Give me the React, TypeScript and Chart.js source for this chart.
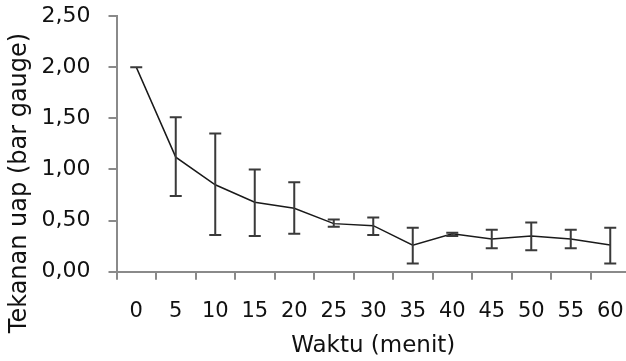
import React, { useEffect, useRef } from "react";
import { Chart, registerables } from "chart.js";

Chart.register(...registerables);

const times = ["0", "5", "10", "15", "20", "25", "30", "35", "40", "45", "50", "55", "60"];
const means = [2.0, 1.12, 0.85, 0.68, 0.62, 0.47, 0.45, 0.26, 0.37, 0.32, 0.35, 0.32, 0.26];
const upper = [2.0, 1.51, 1.35, 1.0, 0.875, 0.51, 0.53, 0.43, 0.38, 0.41, 0.48, 0.41, 0.43];
const lower = [2.0, 0.74, 0.36, 0.35, 0.37, 0.44, 0.36, 0.08, 0.35, 0.23, 0.21, 0.23, 0.08];
const yTitle = "Tekanan uap (bar gauge)";
const xTitle = "Waktu (menit)";

const FONT = "'DejaVu Sans', Verdana, sans-serif";

const errorBarPlugin = {
  id: "errorBars",
  afterDatasetsDraw(chart: any) {
    const ctx = chart.ctx;
    const xs = chart.scales.x;
    const ys = chart.scales.y;
    ctx.save();
    ctx.strokeStyle = "#3a3a3a";
    ctx.lineWidth = 2;
    const cap = 6;
    for (let i = 0; i < means.length; i++) {
      const x = xs.getPixelForValue(i);
      const yu = ys.getPixelForValue(upper[i]);
      const yl = ys.getPixelForValue(lower[i]);
      ctx.beginPath();
      ctx.moveTo(x, yu);
      ctx.lineTo(x, yl);
      ctx.moveTo(x - cap, yu);
      ctx.lineTo(x + cap, yu);
      ctx.moveTo(x - cap, yl);
      ctx.lineTo(x + cap, yl);
      ctx.stroke();
    }
    ctx.restore();
  },
};

const yTitlePlugin = {
  id: "yTitle",
  afterDraw(chart: any) {
    const ctx = chart.ctx;
    ctx.save();
    ctx.translate(26, 183);
    ctx.rotate(-Math.PI / 2);
    ctx.font = `24px ${FONT}`;
    ctx.fillStyle = "#111";
    ctx.textAlign = "center";
    ctx.textBaseline = "alphabetic";
    ctx.fillText(yTitle, 0, 0);
    ctx.restore();
  },
};

export default function App() {
  const ref = useRef<HTMLCanvasElement>(null);
  useEffect(() => {
    if (!ref.current) return;
    const chart = new Chart(ref.current, {
      type: "line",
      data: {
        labels: times,
        datasets: [
          {
            data: means,
            borderColor: "#1a1a1a",
            borderWidth: 1.5,
            pointRadius: 0,
            tension: 0,
            fill: false,
          },
        ],
      },
      options: {
        responsive: false,
        animation: false,
        layout: { padding: { top: 16, right: 10, left: 0, bottom: 0 } },
        plugins: { legend: { display: false }, tooltip: { enabled: false } },
        scales: {
          x: {
            offset: true,
            grid: {
              offset: true,
              drawOnChartArea: false,
              drawTicks: true,
              tickLength: 8,
              color: "#8a8a8a",
              lineWidth: 2,
            },
            border: { color: "#8a8a8a", width: 2 },
            ticks: {
              font: { family: FONT, size: 21 },
              color: "#111",
              padding: 19,
              maxRotation: 0,
              autoSkip: false,
            },
            title: {
              display: true,
              text: xTitle,
              font: { family: FONT, size: 23 },
              color: "#111",
              padding: { top: 0, bottom: 1 },
            },
            afterFit(scale: any) {
              scale.height = 89.3;
              scale.paddingLeft = 0;
              scale.paddingRight = 0;
            },
          },
          y: {
            min: 0,
            max: 2.5,
            grid: {
              drawOnChartArea: false,
              drawTicks: true,
              tickLength: 8,
              color: "#8a8a8a",
              lineWidth: 2,
            },
            border: { color: "#8a8a8a", width: 2 },
            ticks: {
              stepSize: 0.5,
              font: { family: FONT, size: 22 },
              color: "#111",
              padding: 18,
              callback: (v: any) => Number(v).toFixed(2).replace(".", ","),
            },
            afterFit(scale: any) {
              scale.width = 116.5;
              scale.paddingTop = 0;
              scale.paddingBottom = 0;
            },
          },
        },
      },
      plugins: [errorBarPlugin, yTitlePlugin],
    });
    return () => chart.destroy();
  }, []);
  return (
    <div style={{ position: "fixed", left: 0, top: 0, width: 640, height: 361, background: "#fff" }}>
      <canvas ref={ref} width={640} height={361} />
    </div>
  );
}
